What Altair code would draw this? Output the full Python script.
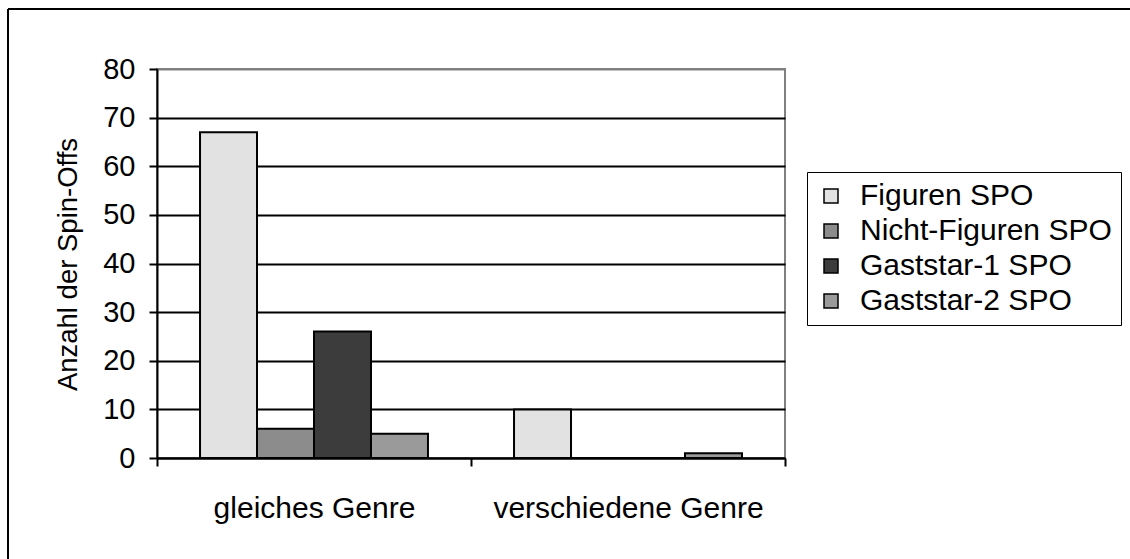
import altair as alt
import pandas as pd

# Spin-off counts by genre relation and spin-off type
genres = ["gleiches Genre", "verschiedene Genre"]
series = ["Figuren SPO", "Nicht-Figuren SPO", "Gaststar-1 SPO", "Gaststar-2 SPO"]
same_genre = [67, 6, 26, 5]
diff_genre = [10, 0, 0, 1]
fills = ["#e2e2e2", "#8c8c8c", "#3c3c3c", "#9a9a9a"]
y_ticks = [0, 10, 20, 30, 40, 50, 60, 70, 80]

rows = []
for s, a, b in zip(series, same_genre, diff_genre):
    rows.append({"genre": genres[0], "serie": s, "anzahl": a})
    rows.append({"genre": genres[1], "serie": s, "anzahl": b})
df = pd.DataFrame(rows)

FONT = "Liberation Sans"

bars = alt.Chart(df).mark_bar(stroke="black", strokeWidth=2).encode(
    x=alt.X(
        "genre:N",
        sort=genres,
        title=None,
        scale=alt.Scale(paddingInner=0, paddingOuter=0),
        axis=alt.Axis(
            labelAngle=0,
            tickBand="extent",
            labelBaseline="middle",
            labelPadding=42,
            labelLimit=0,
            labelFontSize=30,
            tickSize=8,
        ),
    ),
    xOffset=alt.XOffset(
        "serie:N", sort=series, scale=alt.Scale(paddingInner=0, paddingOuter=0.755)
    ),
    y=alt.Y(
        "anzahl:Q",
        title="Anzahl der Spin-Offs",
        scale=alt.Scale(domain=[0, 80], nice=False),
        axis=alt.Axis(
            values=y_ticks,
            grid=True,
            gridColor={"condition": {"test": "datum.value === 80", "value": "#808080"}, "value": "black"},
            gridWidth=2,
            tickSize=8,
            labelPadding=14,
            labelFontSize=29,
            titleX=-89,
            titleY=195,
            titleAngle=270,
            titleAlign="center",
            titleBaseline="middle",
            titleFontSize=27.5,
            titleFont=FONT,
            titleFontWeight="normal",
            titleColor="black",
        ),
    ),
    color=alt.Color(
        "serie:N",
        sort=series,
        scale=alt.Scale(domain=series, range=fills),
        legend=alt.Legend(
            title=None,
            orient="none",
            legendX=650,
            legendY=103,
            strokeColor="black",
            fillColor="white",
            padding=9,
            symbolType="square",
            symbolSize=196,
            symbolStrokeColor="black",
            symbolStrokeWidth=1.5,
            labelFontSize=30,
            labelFont=FONT,
            labelColor="black",
            labelOffset=14,
            labelLimit=0,
            rowPadding=5,
        ),
    ),
)

# Outer chart frame (top and left edges)
frame_df = pd.DataFrame({"k": [0]})
frame_left = alt.Chart(frame_df).mark_rule(color="black", strokeWidth=2).encode(
    x=alt.value(-149), y=alt.value(-60), y2=alt.value(700)
)
frame_top = alt.Chart(frame_df).mark_rule(color="black", strokeWidth=2).encode(
    y=alt.value(-60), x=alt.value(-149), x2=alt.value(1200)
)

chart = (
    alt.layer(bars, frame_left, frame_top)
    .properties(
        width=628,
        height=389,
        autosize=alt.AutoSizeParams(type="none"),
        padding={"left": 157, "top": 69, "right": 345, "bottom": 101},
        background="white",
    )
    .configure_view(stroke="#808080", strokeWidth=2)
    .configure_axis(
        domainColor="black",
        domainWidth=2,
        tickColor="black",
        tickWidth=2,
        labelFontSize=29,
        labelFont=FONT,
        labelColor="black",
    )
)

chart.save("out.html", embed_options={"renderer": "svg", "actions": False})
